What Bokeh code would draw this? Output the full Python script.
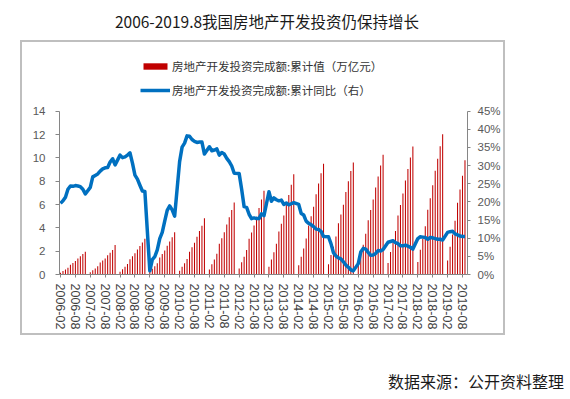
from bokeh.plotting import figure
from bokeh.layouts import column
from bokeh.models import (Range1d, LinearAxis, FixedTicker, PrintfTickFormatter,
                          ColumnDataSource, Legend, LegendItem, Div)
from bokeh.embed import file_html
from bokeh.resources import INLINE

# ---------------- data ----------------
years = [2006, 2007, 2008, 2009, 2010, 2011, 2012, 2013, 2014, 2015, 2016, 2017, 2018, 2019]
first_month = 2  # Jan-Feb reported together

# cumulative investment, 万亿元 (Feb..Dec)
inv_2006 = [0.15, 0.30, 0.42, 0.58, 0.84, 0.99, 1.15, 1.37, 1.57, 1.76, 1.94]
inv_2007 = [0.19, 0.36, 0.52, 0.71, 1.02, 1.19, 1.38, 1.64, 1.86, 2.11, 2.53]
inv_2008 = [0.23, 0.45, 0.66, 0.91, 1.30, 1.56, 1.82, 2.15, 2.45, 2.74, 3.06]
inv_2009 = [0.25, 0.49, 0.70, 0.97, 1.45, 1.76, 2.06, 2.46, 2.83, 3.20, 3.62]
inv_2010 = [0.32, 0.66, 0.96, 1.33, 1.95, 2.33, 2.72, 3.24, 3.72, 4.19, 4.83]
inv_2011 = [0.43, 0.88, 1.29, 1.78, 2.63, 3.11, 3.62, 4.28, 4.91, 5.54, 6.17]
inv_2012 = [0.52, 1.04, 1.52, 2.11, 3.06, 3.61, 4.20, 4.96, 5.70, 6.44, 7.18]
inv_2013 = [0.66, 1.28, 1.90, 2.64, 3.68, 4.35, 5.05, 5.96, 6.82, 7.70, 8.60]
inv_2014 = [0.80, 1.53, 2.22, 3.08, 4.20, 5.00, 5.80, 6.88, 7.81, 8.69, 9.50]
inv_2015 = [0.88, 1.67, 2.37, 3.25, 4.40, 5.15, 5.99, 7.07, 8.00, 8.88, 9.60]
inv_2016 = [0.91, 1.77, 2.54, 3.49, 4.66, 5.53, 6.44, 7.46, 8.40, 9.34, 10.26]
inv_2017 = [0.99, 1.93, 2.77, 3.74, 5.06, 5.95, 6.95, 8.06, 9.05, 10.04, 10.98]
inv_2018 = [1.08, 2.13, 3.06, 4.13, 5.55, 6.53, 7.65, 8.89, 9.93, 10.99, 12.03]
inv_2019 = [1.21, 2.38, 3.42, 4.61, 6.16, 7.28, 8.46, 9.80]

# cumulative YoY growth, % (Feb..Dec)
yoy_2006 = [19.6, 20.3, 21.3, 23.5, 24.4, 24.3, 24.5, 24.4, 24.2, 23.5, 22.2]
yoy_2007 = [24.0, 26.9, 27.3, 27.7, 28.5, 29.1, 29.4, 29.5, 31.0, 31.9, 30.2]
yoy_2008 = [32.9, 32.2, 32.4, 32.9, 33.5, 30.7, 27.4, 26.3, 24.6, 23.0, 22.9]
yoy_2009 = [1.0, 4.1, 4.9, 6.8, 9.9, 11.6, 14.7, 17.7, 18.9, 17.8, 16.1]
yoy_2010 = [31.1, 35.1, 36.2, 38.2, 38.1, 37.2, 36.7, 36.4, 36.5, 36.5, 33.2]
yoy_2011 = [35.2, 34.1, 34.3, 34.6, 32.9, 33.6, 33.2, 32.0, 31.1, 29.9, 27.9]
yoy_2012 = [27.8, 23.5, 18.7, 18.5, 16.6, 15.4, 15.6, 15.4, 15.4, 16.7, 16.2]
yoy_2013 = [22.8, 20.2, 21.1, 20.6, 20.3, 20.5, 19.3, 19.7, 19.2, 19.5, 19.8]
yoy_2014 = [19.3, 16.8, 16.4, 14.7, 14.1, 13.7, 13.2, 12.5, 12.4, 11.9, 10.5]
yoy_2015 = [10.4, 8.5, 6.0, 5.1, 4.6, 4.3, 3.5, 2.6, 2.0, 1.3, 1.0]
yoy_2016 = [3.0, 6.2, 7.2, 7.0, 6.1, 5.3, 5.4, 5.8, 6.6, 6.5, 6.9]
yoy_2017 = [8.9, 9.1, 9.3, 8.8, 8.5, 7.9, 7.9, 8.1, 7.8, 7.5, 7.0]
yoy_2018 = [9.9, 10.4, 10.3, 10.2, 9.7, 10.2, 10.1, 9.9, 9.7, 9.7, 9.5]
yoy_2019 = [11.6, 11.8, 11.9, 11.2, 10.9, 10.6, 10.5, 10.5]

tick_labels = ["2006-02", "2006-08", "2007-02", "2007-08", "2008-02", "2008-08",
               "2009-02", "2009-08", "2010-02", "2010-08", "2011-02", "2011-08",
               "2012-02", "2012-08", "2013-02", "2013-08", "2014-02", "2014-08",
               "2015-02", "2015-08", "2016-02", "2016-08", "2017-02", "2017-08",
               "2018-02", "2018-08", "2019-02", "2019-08"]
left_ticks = [0, 2, 4, 6, 8, 10, 12, 14]
right_ticks = [0, 5, 10, 15, 20, 25, 30, 35, 40, 45]

title_text = "2006-2019.8我国房地产开发投资仍保持增长"
legend_bar = "房地产开发投资完成额:累计值（万亿元）"
legend_line = "房地产开发投资完成额:累计同比（右）"
source_text = "数据来源：公开资料整理"

inv_by_year = [inv_2006, inv_2007, inv_2008, inv_2009, inv_2010, inv_2011, inv_2012,
               inv_2013, inv_2014, inv_2015, inv_2016, inv_2017, inv_2018, inv_2019]
yoy_by_year = [yoy_2006, yoy_2007, yoy_2008, yoy_2009, yoy_2010, yoy_2011, yoy_2012,
               yoy_2013, yoy_2014, yoy_2015, yoy_2016, yoy_2017, yoy_2018, yoy_2019]

# month index: months since 2006-01
xs, inv, yoy = [], [], []
for yr, iv, yv in zip(years, inv_by_year, yoy_by_year):
    for k, (a, b) in enumerate(zip(iv, yv)):
        xs.append((yr - 2006) * 12 + (first_month + k) - 1)
        inv.append(a)
        yoy.append(b)

tick_pos = [(int(t[:4]) - 2006) * 12 + int(t[5:]) - 1 for t in tick_labels]
src = ColumnDataSource(dict(x=xs, inv=inv, yoy=yoy))

# ---------------- geometry (page pixels) ----------------
BOX_L, BOX_T, BOX_R, BOX_B, BW = 20, 40, 509, 339, 2
OX, OY = BOX_L + BW, BOX_T + BW          # canvas origin on the page
FIG_W = BOX_R - BOX_L - 2 * BW
FIG_H = BOX_B - BOX_T - 2 * BW
FL = 37                                   # frame left (canvas)
FW = 408
FT = 2                                    # frame top (canvas), legend lives inside
FB = 274 - OY                             # frame bottom = value 0
FH = FB - FT
Y14 = 110.7 - OY                          # where 14 sits (canvas)
PPY = (FB - Y14) / 14.0
YTOP = FH / PPY
PPM = (462 - 60) / (tick_pos[-1] - tick_pos[0])
x_start = tick_pos[0] - ((60 - OX) - FL) / PPM
x_end = x_start + FW / PPM

p = figure(width=FIG_W, height=FIG_H, output_backend="svg", toolbar_location=None,
           x_range=Range1d(x_start, x_end), y_range=Range1d(0, YTOP),
           min_border_left=FL, min_border_right=FIG_W - FL - FW,
           min_border_top=FT, min_border_bottom=FIG_H - FB,
           x_axis_location=None, y_axis_location=None,
           margin=(0, 0, 0, BOX_L),
           styles={"border": f"{BW}px solid #BFBFBF"})
p.extra_y_ranges = {"pct": Range1d(0, 45.0 / 14.0 * YTOP)}
p.xgrid.visible = False
p.ygrid.visible = False
p.outline_line_color = None
p.background_fill_color = "white"
p.border_fill_color = "white"

AX = "#868686"
left = LinearAxis(ticker=FixedTicker(ticks=left_ticks), bounds=(0, 14))
right = LinearAxis(y_range_name="pct", ticker=FixedTicker(ticks=right_ticks), bounds=(0, 45),
                   formatter=PrintfTickFormatter(format="%d%%"))
bottom = LinearAxis(ticker=FixedTicker(ticks=tick_pos),
                    major_label_overrides={tp: t for tp, t in zip(tick_pos, tick_labels)})
for ax in (left, right, bottom):
    ax.axis_line_color = AX
    ax.major_tick_line_color = AX
    ax.minor_tick_line_color = None
    ax.major_tick_in = 0
    ax.major_label_text_font = "Liberation Sans"
    ax.major_label_text_color = "#595959"
left.major_tick_out = 4
left.major_label_standoff = 10
left.major_label_text_font_size = "11.5px"
right.major_tick_out = 3
right.major_label_standoff = 7
right.major_label_text_font_size = "11.5px"
bottom.major_tick_out = 3
bottom.major_label_standoff = 6
bottom.major_label_orientation = "vertical"
bottom.major_label_text_font_size = "12.5px"
bottom.major_label_text_color = "#404040"
p.add_layout(left, "left")
p.add_layout(right, "right")
p.add_layout(bottom, "below")

bars = p.vbar(x="x", top="inv", width=0.42, bottom=0, source=src,
              fill_color="#C00000", fill_alpha=1.0, line_color=None)
line = p.line(x="x", y="yoy", source=src, y_range_name="pct",
              line_color="#0070C0", line_width=3.5, line_join="round")

# legend (inside the frame's upper, empty part)
LEG_X, LEG_ROW1 = 140, 65.5
legend = Legend(items=[LegendItem(label=legend_bar, renderers=[bars]),
                       LegendItem(label=legend_line, renderers=[line])],
                location=((LEG_X - OX) - FL, FB - ((LEG_ROW1 - OY) - 10 + 44)),
                orientation="vertical", margin=0, padding=0, spacing=4,
                glyph_width=30, glyph_height=8, label_height=20, label_standoff=2,
                label_text_font="Noto Sans CJK SC", label_text_font_size="11.5px",
                label_text_color="#333333", border_line_color=None,
                background_fill_alpha=0)
p.add_layout(legend, "center")

title_div = Div(
    text=('<div style="width:534px;text-align:center;font-family:\'Noto Sans CJK SC\';'
          'font-size:15.5px;line-height:18px;color:#1a1a1a;padding-top:12px;'
          'white-space:nowrap">' + title_text + '</div>'),
    width=534, height=BOX_T, margin=(0, 0, 0, 0))
source_div = Div(
    text=('<div style="font-family:\'Noto Sans CJK SC\';font-size:16px;line-height:18px;'
          'color:#1a1a1a;padding-top:37px;white-space:nowrap">' + source_text + '</div>'),
    width=180, height=56, margin=(0, 0, 0, 388))

layout = column(title_div, p, source_div, spacing=0)
open("out.html", "w").write(file_html(layout, INLINE))
